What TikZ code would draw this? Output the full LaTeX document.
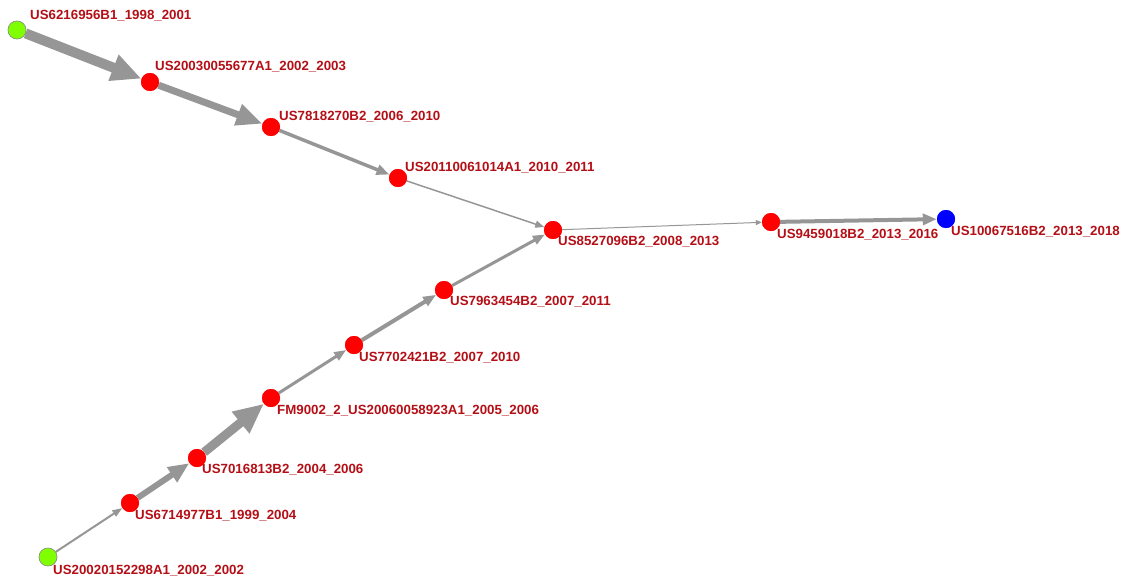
\documentclass[tikz,border=0pt]{standalone}
\usepackage{fontspec}
\setmainfont{Liberation Sans}
\usetikzlibrary{arrows.meta}
\definecolor{lbl}{RGB}{180,15,22}
\definecolor{edg}{RGB}{150,150,150}
\definecolor{grn}{RGB}{127,255,0}
\tikzset{
  pt/.style={circle,inner sep=0pt,minimum size=18pt,fill=red},
  gpt/.style={circle,inner sep=0pt,minimum size=18pt,fill=grn,draw=black!45,line width=0.5pt},
  bpt/.style={circle,inner sep=0pt,minimum size=18pt,fill=blue},
  lab/.style={anchor=west,inner sep=0pt,text=lbl,font=\fontsize{13.3}{15}\selectfont\bfseries},
  ed/.style n args={3}{draw=edg,line width=#1pt,-{Triangle[length=#2pt,width=#3pt]}},
}
\begin{document}
\begin{tikzpicture}[x=1pt,y=-1pt]
\useasboundingbox (0,0) rectangle (1124,581);
% nodes
\node[gpt] (n1) at (17,30) {};
\node[pt] (n2) at (150,82) {};
\node[pt] (n3) at (271,127) {};
\node[pt] (n4) at (398,178) {};
\node[pt] (n5) at (553,230) {};
\node[pt] (n6) at (771,222) {};
\node[bpt] (n7) at (946,219) {};
\node[pt] (n8) at (444,290) {};
\node[pt] (n9) at (354,345) {};
\node[pt] (n10) at (271,398) {};
\node[pt] (n11) at (197,458) {};
\node[pt] (n12) at (130,503) {};
\node[gpt] (n13) at (48,557) {};
% edges
\path[ed={10}{30}{26}] (n1) -- (n2);
\path[ed={7}{26}{21}] (n2) -- (n3);
\path[ed={3.5}{13}{10}] (n3) -- (n4);
\path[ed={1.5}{9}{7}] (n4) -- (n5);
\path[ed={1}{6}{5}] (n5) -- (n6);
\path[ed={4}{14}{11}] (n6) -- (n7);
\path[ed={2}{10}{7}] (n13) -- (n12);
\path[ed={6}{21}{17}] (n12) -- (n11);
\path[ed={9}{30}{26}] (n11) -- (n10);
\path[ed={3}{12}{9}] (n10) -- (n9);
\path[ed={4}{13}{10}] (n9) -- (n8);
\path[ed={3}{12}{9}] (n8) -- (n5);
% redraw nodes on top
\foreach \n/\s in {n1/gpt,n2/pt,n3/pt,n4/pt,n5/pt,n6/pt,n7/bpt,n8/pt,n9/pt,n10/pt,n11/pt,n12/pt,n13/gpt}{
  \path (\n.center) node[\s] {};
}
% labels
\node[lab] (l1) at (30,16) {US6216956B1\_1998\_2001};
\node[lab] (l2) at (155,67) {US20030055677A1\_2002\_2003};
\node[lab] (l3) at (279,117) {US7818270B2\_2006\_2010};
\node[lab] (l4) at (405,168) {US20110061014A1\_2010\_2011};
\node[lab] (l5) at (558,242) {US8527096B2\_2008\_2013};
\node[lab] (l6) at (777,235) {US9459018B2\_2013\_2016};
\node[lab] (l7) at (951,232) {US10067516B2\_2013\_2018};
\node[lab] (l8) at (450,302) {US7963454B2\_2007\_2011};
\node[lab] (l9) at (359,358) {US7702421B2\_2007\_2010};
\node[lab] (l10) at (277,411) {FM9002\_2\_US20060058923A1\_2005\_2006};
\node[lab] (l11) at (202,470) {US7016813B2\_2004\_2006};
\node[lab] (l12) at (135,516) {US6714977B1\_1999\_2004};
\node[lab] (l13) at (53,571) {US20020152298A1\_2002\_2002};
\end{tikzpicture}
\end{document}
